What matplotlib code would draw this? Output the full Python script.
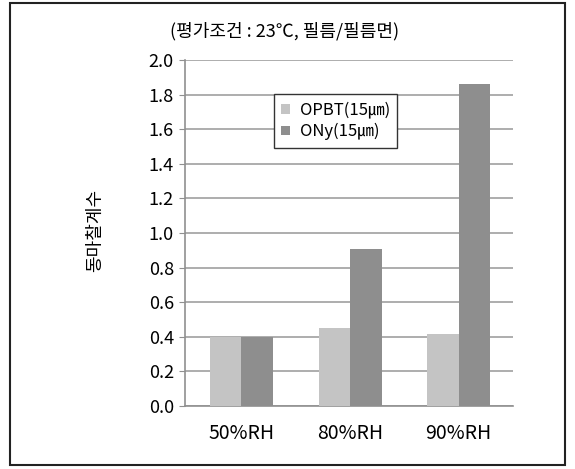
import numpy as np
import matplotlib
matplotlib.use("Agg")
import matplotlib.pyplot as plt
from matplotlib.patches import Rectangle

plt.rcParams['font.family'] = ['Noto Sans CJK KR', 'DejaVu Sans']

categories = ['50%RH', '80%RH', '90%RH']
opbt = [0.40, 0.45, 0.415]
ony = [0.40, 0.91, 1.86]
series_names = ['OPBT(15㎛)', 'ONy(15㎛)']
title = '(평가조건 : 23℃, 필름/필름면)'
ylabel = '동마찰계수'

fig = plt.figure(figsize=(5.75, 4.69), dpi=100)
ax = fig.add_axes([185/575, 1 - 406/469, (513 - 185)/575, (406 - 60)/469])

x = np.arange(len(categories))
w = 0.29
ax.bar(x - w/2, opbt, w, color='#c4c4c4', label=series_names[0], zorder=3)
ax.bar(x + w/2, ony, w, color='#8e8e8e', label=series_names[1], zorder=3)

ax.set_ylim(0, 2.0)
ax.set_xlim(-0.52, 2.5)
ax.set_yticks(np.arange(0, 2.01, 0.2))
ax.set_yticklabels(['%.1f' % v for v in np.arange(0, 2.01, 0.2)])
ax.set_xticks(x)
ax.set_xticklabels(categories)
ax.yaxis.grid(True, color='#a0a0a0', linewidth=1.2, zorder=0)
ax.set_axisbelow(True)
for s in ['top', 'right']:
    ax.spines[s].set_visible(False)
ax.spines['left'].set_color('#909090')
ax.spines['bottom'].set_color('#909090')
ax.spines['left'].set_linewidth(1.2)
ax.spines['bottom'].set_linewidth(1.2)
ax.tick_params(axis='y', length=4, color='#909090', labelsize=13, pad=4)
ax.tick_params(axis='x', length=0, labelsize=14, pad=12)

leg = ax.legend(loc='upper left', bbox_to_anchor=(0.245, 0.925), fontsize=12,
                frameon=True, fancybox=False, handlelength=0.5, handleheight=0.5,
                handletextpad=0.6, borderpad=0.45, labelspacing=0.25)
leg.get_frame().set_edgecolor('#333333')
leg.get_frame().set_linewidth(1.0)
leg.get_frame().set_facecolor('white')
leg.get_frame().set_alpha(1)

fig.text(285/575, 1 - 31/469, title, ha='center', va='center', fontsize=13)
fig.text(95/575, 1 - 230/469, ylabel, ha='center', va='center', rotation=90, fontsize=13)

fig.patches.append(Rectangle((10/575, 1 - 465/469), 555/575, 462/469,
                             transform=fig.transFigure, fill=False,
                             edgecolor='#222222', linewidth=1.5))

fig.savefig('out.png', dpi=100)
